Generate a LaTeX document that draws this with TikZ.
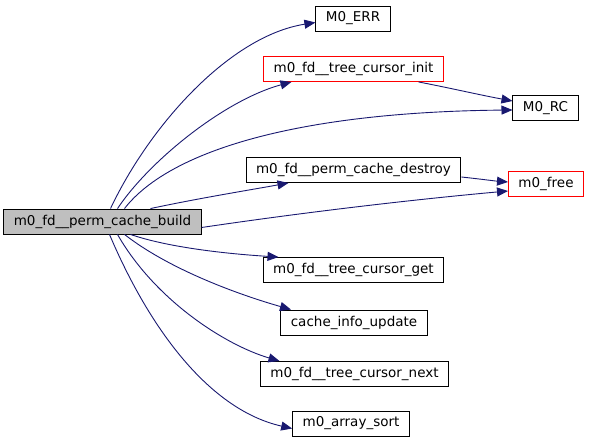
\documentclass[tikz,border=0pt]{standalone}
\usepackage{fontspec}
\setmainfont{DejaVu Sans}
\usetikzlibrary{arrows.meta}
\definecolor{edgeblue}{HTML}{191970}
\definecolor{rootgray}{HTML}{BFBFBF}
\tikzset{
    fnbox/.style={draw, line width=0.9pt, minimum height=25pt,
                  inner xsep=10pt, inner ysep=0pt, font=\fontsize{13.5}{15}\selectfont},
    callee/.style={fnbox, fill=white},
    missing/.style={fnbox, draw=red},
    root/.style={fnbox, fill=rootgray},
    flow/.style={-{Triangle[length=11pt, width=9pt]}, draw=edgeblue, line width=0.9pt},
}

\begin{document}
\begin{tikzpicture}[x=1pt, y=-1pt]
    \useasboundingbox (0,0) rectangle (589,443);

    \node[root] (build) at (102.5,221.5) {m0\_fd\_\_perm\_cache\_build};

    \node[callee] (err) at (353,18.5) {M0\_ERR};
    \node[missing] (init) at (353.5,69) {m0\_fd\_\_tree\_cursor\_init};
    \node[callee] (rc) at (545.5,108) {M0\_RC};
    \node[callee] (destroy) at (353.5,170) {m0\_fd\_\_perm\_cache\_destroy};
    \node[missing] (free) at (546,184) {m0\_free};
    \node[callee] (get) at (353.5,270) {m0\_fd\_\_tree\_cursor\_get};
    \node[callee] (update) at (354,322.5) {cache\_info\_update};
    \node[callee] (next) at (354.5,374) {m0\_fd\_\_tree\_cursor\_next};
    \node[callee] (sort) at (351,423.5) {m0\_array\_sort};

    % calls above the root
    \draw[flow] ([xshift=8pt]build.north) .. controls (150,125) and (230,36) .. ([yshift=-4pt]err.west);
    \draw[flow] ([xshift=15pt]build.north) .. controls (150,160) and (225,100) .. ([xshift=-62pt]init.south);
    \draw[flow] ([xshift=22pt]build.north) .. controls (170,150) and (300,112) .. ([yshift=-2pt]rc.west);
    \draw[flow] ([xshift=65pt]init.south) .. controls (450,88) and (480,95) .. ([yshift=7pt]rc.west);
    \draw[flow] ([xshift=48pt]build.north) .. controls (200,198) and (250,190) .. ([xshift=-65pt]destroy.south);

    % calls to m0_free
    \draw[flow] ([yshift=-7pt]destroy.east) .. controls (480,179) and (495,181) .. ([yshift=2pt]free.west);
    \draw[flow] ([yshift=-6pt]build.east) .. controls (320,210) and (430,198) .. ([yshift=-7pt]free.west);

    % calls below the root
    \draw[flow] ([xshift=28pt]build.south) .. controls (170,248) and (230,254) .. ([xshift=-75pt]get.north);
    \draw[flow] ([xshift=22pt]build.south) .. controls (170,270) and (240,295) .. ([xshift=-63pt]update.north);
    \draw[flow] ([xshift=15pt]build.south) .. controls (155,300) and (225,345) .. ([xshift=-75pt]next.north);
    \draw[flow] ([xshift=7pt]build.south) .. controls (150,330) and (210,410) .. ([yshift=-5pt]sort.west);

\end{tikzpicture}
\end{document}
